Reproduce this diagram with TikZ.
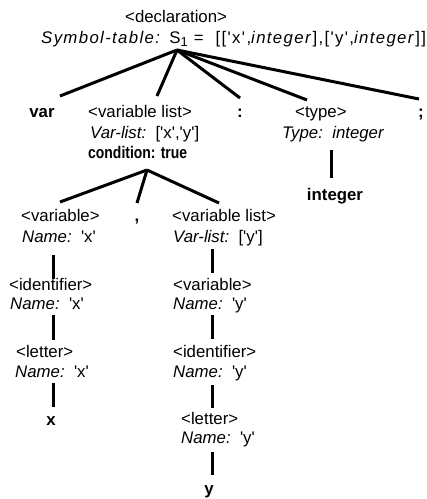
\documentclass[tikz,border=0pt]{standalone}
\usepackage{fontspec}
% plain family: keeps straight apostrophes (no TeX ligature mapping)
\newfontfamily\lib{Liberation Sans}
\newfontfamily\libwide{Liberation Sans}[LetterSpace=8]
\begin{document}
\begin{tikzpicture}[x=1pt,y=-1pt,
  lbl/.style={anchor=base west,inner sep=0pt,font=\lib\fontsize{16.8}{20}\selectfont},
  term/.style={anchor=base,inner sep=0pt,font=\lib\fontsize{16.8}{20}\selectfont\bfseries},
  edge/.style={line width=3pt}]
\useasboundingbox (0,0) rectangle (427,499);

% ---- root: <declaration>
\node[lbl] (decl)  at (125,22) {<declaration>};
\node[lbl,font=\libwide\fontsize{16.8}{20}\selectfont] (declA) at (41,43)
  {\textit{Symbol-table:} S\raisebox{-3.5pt}{\fontsize{13}{13}\selectfont 1} =\ \ [['x',\textit{integer}],['y',\textit{integer}]]};

% ---- children of the root
\node[term] (var)   at (42,117)  {var};
\node[lbl]  (vl)    at (88,117)  {<variable list>};
\node[lbl]  (vlA)   at (90,138)  {\textit{Var-list:}\ \ ['x','y']};
\node[lbl]  (vlB)   at (88,158)  {\scalebox{0.83}[1]{\bfseries condition: true}};
\node[term] (colon) at (240,117) {:};
\node[lbl]  (type)  at (295,117) {<type>};
\node[lbl]  (typeA) at (282,138) {\textit{Type:\ \ integer}};
\node[term] (semi)  at (421,117) {;};
\node[term] (int)   at (335,200) {integer};

% ---- children of <variable list>
\node[lbl]  (var2)  at (21,221)  {<variable>};
\node[lbl]  (var2A) at (22,242)  {\textit{Name:}\ \ 'x'};
\node[term] (comma) at (137,221) {,};
\node[lbl]  (vl2)   at (172,221) {<variable list>};
\node[lbl]  (vl2A)  at (173,242) {\textit{Var-list:}\ \ ['y']};

% ---- left branch: x
\node[lbl]  (id1)   at (9,290)   {<identifier>};
\node[lbl]  (id1A)  at (10,309)  {\textit{Name:}\ \ 'x'};
\node[lbl]  (let1)  at (16,357)  {<letter>};
\node[lbl]  (let1A) at (15,377)  {\textit{Name:}\ \ 'x'};
\node[term] (x)     at (51,425)  {x};

% ---- right branch: y
\node[lbl]  (var3)  at (173,290) {<variable>};
\node[lbl]  (var3A) at (173,309) {\textit{Name:}\ \ 'y'};
\node[lbl]  (id2)   at (173,357) {<identifier>};
\node[lbl]  (id2A)  at (173,377) {\textit{Name:}\ \ 'y'};
\node[lbl]  (let2)  at (181,424) {<letter>};
\node[lbl]  (let2A) at (181,443) {\textit{Name:}\ \ 'y'};
\node[term] (y)     at (209,494) {y};

% ---- attachment points of the branches
\coordinate (declB)  at (177,50);
\coordinate (varT)   at (60,96);
\coordinate (vlT)    at (157,96);
\coordinate (colonT) at (240,98);
\coordinate (typeT)  at (307,100);
\coordinate (semiT)  at (419,99);
\coordinate (typeB)  at (331,150);
\coordinate (intT)   at (331,178);

\coordinate (vlB2)   at (147,170);
\coordinate (var2T)  at (60,202);
\coordinate (commaT) at (137,203);
\coordinate (vl2T)   at (219,203);

\coordinate (var2B)  at (53,255);
\coordinate (id1T)   at (53,279);
\coordinate (id1B)   at (53,315);
\coordinate (let1T)  at (53,340);
\coordinate (let1B)  at (53,383);
\coordinate (xT)     at (53,407);

\coordinate (vl2B)   at (212,249);
\coordinate (var3T)  at (212,273);
\coordinate (var3B)  at (212,315);
\coordinate (id2T)   at (212,339);
\coordinate (id2B)   at (212,385);
\coordinate (let2T)  at (212,408);
\coordinate (let2B)  at (212,452);
\coordinate (yT)     at (212,475);

% ---- branches
\draw[edge] (declB) -- (varT);
\draw[edge] (declB) -- (vlT);
\draw[edge] (declB) -- (colonT);
\draw[edge] (declB) -- (typeT);
\draw[edge] (declB) -- (semiT);
\draw[edge] (typeB) -- (intT);

\draw[edge] (vlB2) -- (var2T);
\draw[edge] (vlB2) -- (commaT);
\draw[edge] (vlB2) -- (vl2T);

\draw[edge] (var2B) -- (id1T);
\draw[edge] (id1B)  -- (let1T);
\draw[edge] (let1B) -- (xT);

\draw[edge] (vl2B)  -- (var3T);
\draw[edge] (var3B) -- (id2T);
\draw[edge] (id2B)  -- (let2T);
\draw[edge] (let2B) -- (yT);
\end{tikzpicture}
\end{document}
